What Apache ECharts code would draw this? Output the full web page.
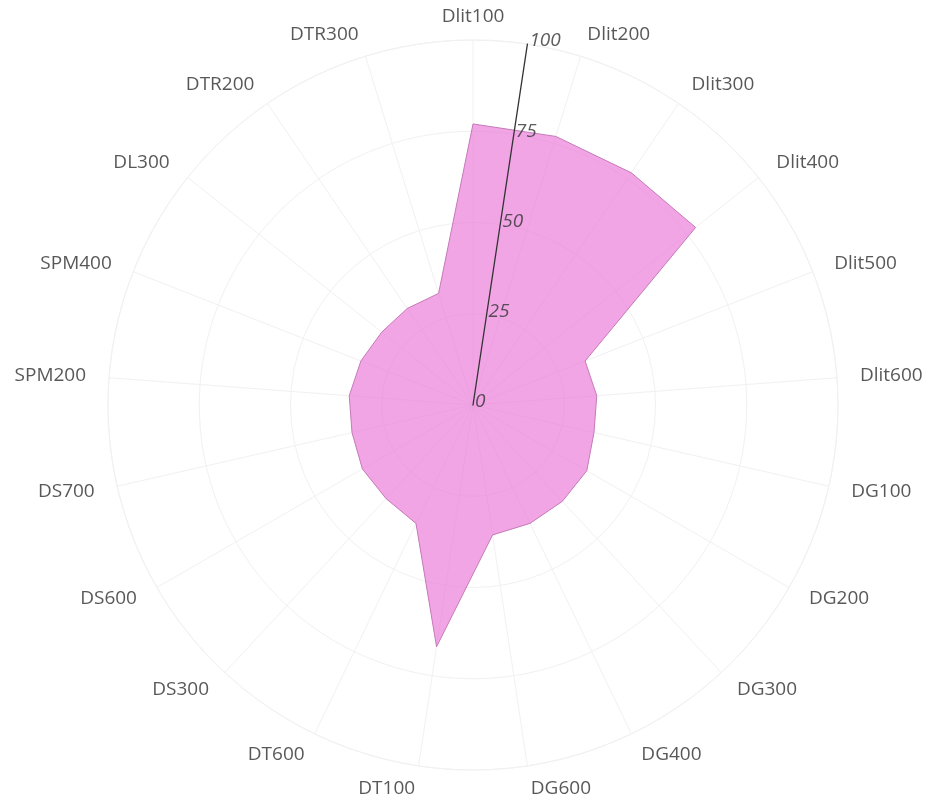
<!DOCTYPE html>
<html>
<head>
<meta charset="utf-8">
<script src="https://cdn.jsdelivr.net/npm/echarts@6/dist/echarts.min.js"></script>
<style>
html,body{margin:0;padding:0;background:#fff;}
#chart{width:928px;height:802px;}
</style>
</head>
<body>
<div id="chart"></div>
<script>
const categories = ['Dlit100','Dlit200','Dlit300','Dlit400','Dlit500','Dlit600','DG100','DG200','DG300','DG400','DG600','DT100','DT600','DS300','DS600','DS700','SPM200','SPM400','DL300','DTR200','DTR300'];
const values = [77, 77, 77, 78, 33, 34, 34, 36, 36, 36, 36, 67, 36, 35, 35, 34, 34, 33, 32, 32, 32];
const radialTicks = [0, 25, 50, 75, 100];

const CENTER = [473, 405];
const R = 365;
const LABEL_R = 388;
const FONT = "'Open Sans', 'Noto Sans', sans-serif";
const n = categories.length;
const step = 360 / n;
const rMin = radialTicks[0], rMax = radialTicks[radialTicks.length - 1];
const rInterval = radialTicks[1] - radialTicks[0];

// closed polygon: angle expressed as category index, last point returns to index n (== 0)
const lineData = categories.map((c, i) => [values[i], i]);
lineData.push([values[0], n]);

const labelData = categories.map((c, i) => {
  const ang = (90 - i * step) * Math.PI / 180;
  const cs = Math.cos(ang);
  let align = 'center';
  if (cs > 0.1) align = 'left';
  else if (cs < -0.1) align = 'right';
  return { value: [rMax, i], name: c, label: { align: align } };
});

const tickLabelData = radialTicks.map(t => ({ value: [t, 0], name: String(t) }));

const grid = '#f3f0f3';
const chart = echarts.init(document.getElementById('chart'), null, { renderer: 'canvas' });
chart.setOption({
  backgroundColor: '#ffffff',
  animation: false,
  polar: [
    { center: CENTER, radius: R },
    { center: CENTER, radius: R },
    { center: CENTER, radius: LABEL_R }
  ],
  angleAxis: [
    {
      polarIndex: 0, type: 'value', min: 0, max: n, interval: 1,
      startAngle: 90, clockwise: true,
      axisLine: { show: true, lineStyle: { color: grid, width: 1 } },
      axisTick: { show: false }, axisLabel: { show: false },
      splitLine: { show: true, lineStyle: { color: grid, width: 1 } }
    },
    {
      polarIndex: 1, type: 'value', min: 0, max: 360, show: false,
      startAngle: 90 - step / 2, clockwise: true
    },
    {
      polarIndex: 2, type: 'value', min: 0, max: n, show: false,
      startAngle: 90, clockwise: true
    }
  ],
  radiusAxis: [
    {
      polarIndex: 0, type: 'value', min: rMin, max: rMax, interval: rInterval,
      axisLine: { show: false }, axisTick: { show: false }, axisLabel: { show: false },
      splitLine: { show: true, lineStyle: { color: grid, width: 1 } }
    },
    {
      polarIndex: 1, type: 'value', min: rMin, max: rMax, interval: rInterval, z: 10,
      axisLine: { show: true, lineStyle: { color: '#333', width: 1.3 } },
      axisTick: { show: false },
      axisLabel: { show: false },
      splitLine: { show: false }
    },
    {
      polarIndex: 2, type: 'value', min: rMin, max: rMax, show: false
    }
  ],
  series: [
    {
      type: 'line', coordinateSystem: 'polar', polarIndex: 0, clip: false,
      data: lineData, symbol: 'none', smooth: false, z: 2,
      lineStyle: { color: '#c47ab8', width: 1 },
      areaStyle: { color: 'rgba(234,122,216,0.68)', opacity: 1 }
    },
    {
      type: 'scatter', coordinateSystem: 'polar', polarIndex: 1,
      data: tickLabelData, symbolSize: 0, silent: true, z: 11,
      label: {
        show: true, position: 'inside', align: 'left', verticalAlign: 'middle',
        offset: [2, -3],
        formatter: p => p.name,
        color: '#333', fontFamily: FONT, fontSize: 19, fontStyle: 'italic'
      }
    },
    {
      type: 'scatter', coordinateSystem: 'polar', polarIndex: 2,
      data: labelData, symbolSize: 0, silent: true,
      label: {
        show: true, position: 'inside', verticalAlign: 'middle',
        formatter: p => p.name,
        color: '#2e2e2e', fontFamily: FONT, fontSize: 19
      }
    }
  ]
});
</script>
</body>
</html>
